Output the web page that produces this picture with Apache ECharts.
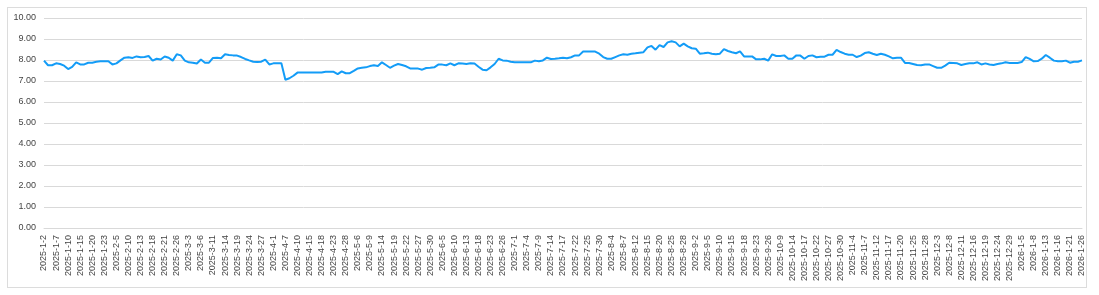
<!DOCTYPE html>
<html>
<head>
<meta charset="utf-8">
<script src="https://cdn.jsdelivr.net/npm/echarts@6/dist/echarts.min.js"></script>
<style>
html,body{margin:0;padding:0;background:#fff;}
#frame{position:absolute;left:7px;top:7px;width:1078px;height:279px;border:1px solid #dcdcdc;}
#chart{position:absolute;left:0;top:0;width:1099px;height:295px;}
</style>
</head>
<body>
<div id="frame"></div>
<div id="chart"></div>
<script>
const categories = [
"2025-1-2","2025-1-3","2025-1-6","2025-1-7","2025-1-8","2025-1-9","2025-1-10","2025-1-13","2025-1-14","2025-1-15","2025-1-16","2025-1-17","2025-1-20","2025-1-21","2025-1-22","2025-1-23","2025-1-24","2025-1-27",
"2025-2-5","2025-2-6","2025-2-7","2025-2-10","2025-2-11","2025-2-12","2025-2-13","2025-2-14","2025-2-17","2025-2-18","2025-2-19","2025-2-20","2025-2-21","2025-2-24","2025-2-25","2025-2-26","2025-2-27","2025-2-28",
"2025-3-3","2025-3-4","2025-3-5","2025-3-6","2025-3-7","2025-3-10","2025-3-11","2025-3-12","2025-3-13","2025-3-14","2025-3-17","2025-3-18","2025-3-19","2025-3-20","2025-3-21","2025-3-24","2025-3-25","2025-3-26","2025-3-27","2025-3-28","2025-3-31",
"2025-4-1","2025-4-2","2025-4-3","2025-4-7","2025-4-8","2025-4-9","2025-4-10","2025-4-11","2025-4-14","2025-4-15","2025-4-16","2025-4-17","2025-4-18","2025-4-21","2025-4-22","2025-4-23","2025-4-24","2025-4-25","2025-4-28","2025-4-29","2025-4-30",
"2025-5-6","2025-5-7","2025-5-8","2025-5-9","2025-5-12","2025-5-13","2025-5-14","2025-5-15","2025-5-16","2025-5-19","2025-5-20","2025-5-21","2025-5-22","2025-5-23","2025-5-26","2025-5-27","2025-5-28","2025-5-29","2025-5-30",
"2025-6-3","2025-6-4","2025-6-5","2025-6-6","2025-6-9","2025-6-10","2025-6-11","2025-6-12","2025-6-13","2025-6-16","2025-6-17","2025-6-18","2025-6-19","2025-6-20","2025-6-23","2025-6-24","2025-6-25","2025-6-26","2025-6-27","2025-6-30",
"2025-7-1","2025-7-2","2025-7-3","2025-7-4","2025-7-7","2025-7-8","2025-7-9","2025-7-10","2025-7-11","2025-7-14","2025-7-15","2025-7-16","2025-7-17","2025-7-18","2025-7-21","2025-7-22","2025-7-23","2025-7-24","2025-7-25","2025-7-28","2025-7-29","2025-7-30","2025-7-31",
"2025-8-1","2025-8-4","2025-8-5","2025-8-6","2025-8-7","2025-8-8","2025-8-11","2025-8-12","2025-8-13","2025-8-14","2025-8-15","2025-8-18","2025-8-19","2025-8-20","2025-8-21","2025-8-22","2025-8-25","2025-8-26","2025-8-27","2025-8-28","2025-8-29",
"2025-9-1","2025-9-2","2025-9-3","2025-9-4","2025-9-5","2025-9-8","2025-9-9","2025-9-10","2025-9-11","2025-9-12","2025-9-15","2025-9-16","2025-9-17","2025-9-18","2025-9-19","2025-9-22","2025-9-23","2025-9-24","2025-9-25","2025-9-26","2025-9-29","2025-9-30",
"2025-10-9","2025-10-10","2025-10-13","2025-10-14","2025-10-15","2025-10-16","2025-10-17","2025-10-20","2025-10-21","2025-10-22","2025-10-23","2025-10-24","2025-10-27","2025-10-28","2025-10-29","2025-10-30","2025-10-31",
"2025-11-3","2025-11-4","2025-11-5","2025-11-6","2025-11-7","2025-11-10","2025-11-11","2025-11-12","2025-11-13","2025-11-14","2025-11-17","2025-11-18","2025-11-19","2025-11-20","2025-11-21","2025-11-24","2025-11-25","2025-11-26","2025-11-27","2025-11-28",
"2025-12-1","2025-12-2","2025-12-3","2025-12-4","2025-12-5","2025-12-8","2025-12-9","2025-12-10","2025-12-11","2025-12-12","2025-12-15","2025-12-16","2025-12-17","2025-12-18","2025-12-19","2025-12-22","2025-12-23","2025-12-24","2025-12-25","2025-12-26","2025-12-29","2025-12-30","2025-12-31",
"2026-1-5","2026-1-6","2026-1-7","2026-1-8","2026-1-9","2026-1-12","2026-1-13","2026-1-14","2026-1-15","2026-1-16","2026-1-19","2026-1-20","2026-1-21","2026-1-22","2026-1-23","2026-1-26"
];

const values = [
7.97,7.75,7.75,7.84,7.81,7.73,7.57,7.67,7.89,7.79,7.79,7.87,7.87,7.92,7.94,7.94,7.94,7.79,7.84,7.98,
8.11,8.13,8.10,8.17,8.13,8.14,8.19,7.97,8.06,8.02,8.17,8.11,7.97,8.27,8.22,7.97,7.89,7.87,7.83,8.02,
7.87,7.87,8.10,8.11,8.08,8.27,8.24,8.22,8.21,8.14,8.05,7.98,7.92,7.90,7.92,8.02,7.79,7.84,7.84,7.84,
7.06,7.13,7.25,7.40,7.40,7.40,7.40,7.40,7.40,7.40,7.44,7.44,7.44,7.33,7.46,7.37,7.37,7.48,7.60,7.63,
7.65,7.71,7.75,7.71,7.89,7.76,7.63,7.73,7.81,7.76,7.70,7.60,7.59,7.59,7.54,7.62,7.63,7.65,7.78,7.78,
7.75,7.84,7.75,7.84,7.83,7.81,7.84,7.83,7.68,7.54,7.51,7.65,7.81,8.06,7.98,7.97,7.92,7.89,7.89,7.89,
7.89,7.89,7.97,7.94,7.98,8.11,8.05,8.06,8.08,8.11,8.08,8.13,8.22,8.22,8.40,8.40,8.40,8.40,8.30,8.14,
8.06,8.06,8.14,8.22,8.27,8.25,8.30,8.32,8.35,8.37,8.60,8.67,8.49,8.71,8.62,8.84,8.89,8.84,8.65,8.78,
8.65,8.56,8.54,8.30,8.32,8.35,8.30,8.27,8.30,8.52,8.43,8.37,8.32,8.41,8.17,8.17,8.17,8.03,8.03,8.06,
7.97,8.27,8.19,8.19,8.22,8.06,8.06,8.22,8.21,8.06,8.19,8.22,8.13,8.16,8.16,8.25,8.25,8.48,8.38,8.30,
8.25,8.25,8.14,8.21,8.33,8.37,8.30,8.24,8.30,8.25,8.17,8.08,8.11,8.11,7.86,7.86,7.81,7.76,7.75,7.79,
7.79,7.71,7.63,7.63,7.73,7.87,7.86,7.84,7.76,7.81,7.84,7.84,7.89,7.79,7.84,7.79,7.76,7.81,7.84,7.89,
7.86,7.86,7.86,7.90,8.14,8.05,7.94,7.95,8.06,8.24,8.11,7.97,7.94,7.94,7.97,7.87,7.92,7.92,7.98
];

const chart = echarts.init(document.getElementById('chart'), null, {renderer: 'canvas'});
const font = '"Liberation Sans", Arial, sans-serif';
chart.setOption({
  animation: false,
  backgroundColor: 'transparent',
  grid: {left: 44, right: 17, top: 18, bottom: 67, containLabel: false},
  xAxis: {
    type: 'category',
    data: categories,
    boundaryGap: false,
    axisLine: {show: true, lineStyle: {color: '#d9d9d9'}},
    axisTick: {show: false},
    axisLabel: {rotate: 90, interval: 2, fontSize: 9, color: '#444', fontFamily: font, margin: 7}
  },
  yAxis: {
    type: 'value',
    min: 0, max: 10, interval: 1,
    axisLine: {show: false},
    axisTick: {show: false},
    splitLine: {lineStyle: {color: '#d9d9d9'}},
    axisLabel: {fontSize: 9, color: '#444', fontFamily: font, margin: 8,
      formatter: v => v.toFixed(2)}
  },
  series: [{
    type: 'line',
    data: values,
    showSymbol: false,
    symbol: 'none',
    lineStyle: {color: '#139cf7', width: 2},
    itemStyle: {color: '#139cf7'}
  }]
});
</script>
</body>
</html>
